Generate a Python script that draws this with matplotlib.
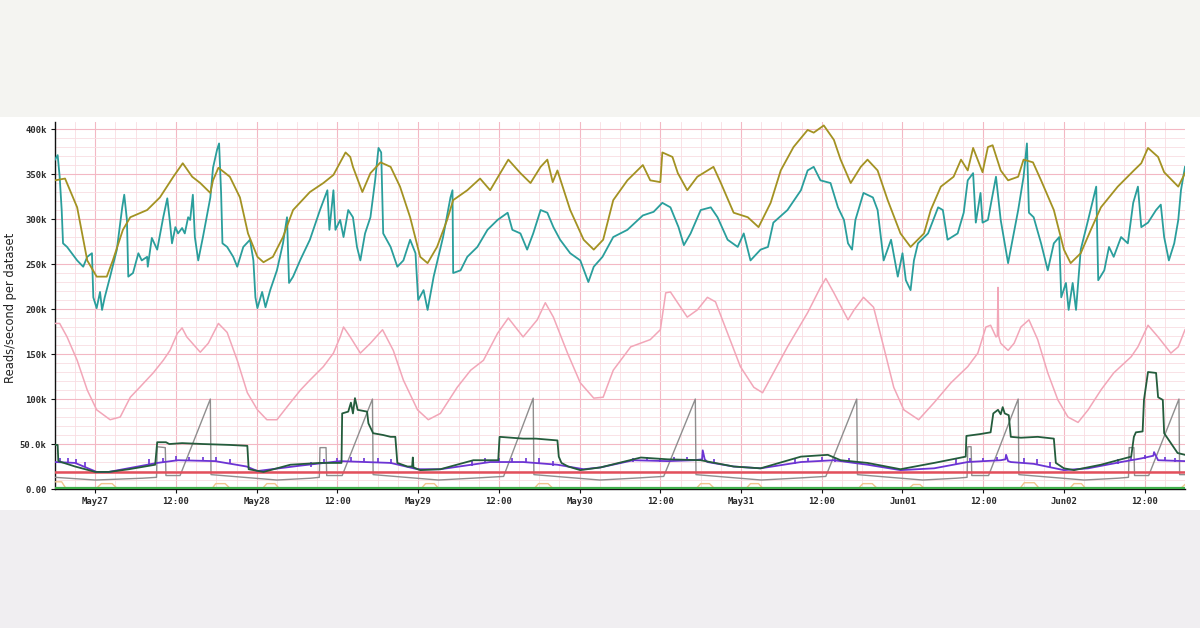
import numpy as np
import pandas as pd
import matplotlib
matplotlib.use('Agg')
import matplotlib.pyplot as plt
import matplotlib.dates as mdates
from matplotlib.patches import Rectangle
from matplotlib.ticker import MultipleLocator, FuncFormatter

START = pd.Timestamp('2023-05-26 18:00')
END = pd.Timestamp('2023-06-02 18:00')

# each series: (hours since START, reads/s in thousands)
olive = [(0, 343), (1.5, 345), (3.3, 313), (4.8, 254), (6.2, 236), (7.7, 236), (8.6, 254), (10.1, 288), (11.2, 302),
         (13.7, 310), (15.6, 324), (17.6, 347), (19.0, 362), (20.4, 347), (21.6, 340), (23.1, 329), (23.5, 343),
         (24.3, 357), (26.0, 347), (27.5, 324), (28.7, 284), (30.1, 258), (31.0, 252), (32.4, 258), (33.9, 280),
         (35.4, 310), (37.9, 330), (39.9, 340), (41.4, 349), (43.2, 374), (43.9, 369), (44.3, 358), (45.7, 330),
         (46.9, 351), (48.4, 363), (49.9, 358), (51.3, 336), (52.8, 302), (54.3, 258), (55.4, 251), (56.8, 269),
         (58.3, 299), (59.2, 321), (61.3, 332), (63.2, 345), (64.7, 332), (66.2, 351), (67.4, 366), (69.2, 351),
         (70.7, 340), (72.2, 358), (73.2, 366), (74.0, 341), (74.7, 354), (76.6, 310), (78.6, 277), (80.1, 266),
         (81.5, 277), (83.0, 321), (85.1, 343), (87.4, 360), (88.5, 343), (90.0, 341), (90.3, 374), (91.8, 369),
         (92.6, 351), (94.0, 332), (95.5, 347), (97.9, 358), (99.0, 340), (100.9, 307), (103.0, 302), (104.6, 291),
         (106.4, 318), (107.9, 354), (109.8, 380), (111.9, 399), (112.8, 396), (114.3, 404), (115.8, 388),
         (116.8, 366), (118.3, 340), (119.8, 358), (120.8, 366), (122.3, 354), (123.8, 321), (125.7, 284),
         (127.2, 269), (129.2, 284), (130.2, 310), (131.7, 336), (133.6, 347), (134.7, 366), (135.7, 354),
         (136.5, 379), (137.9, 352), (138.7, 380), (139.4, 382), (140.6, 354), (141.7, 343), (143.2, 347),
         (144.0, 366), (145.4, 363), (146.6, 343), (148.5, 310), (150.0, 266), (151.0, 251), (152.5, 262),
         (154.0, 288), (155.5, 313), (158.0, 336), (160.4, 354), (161.5, 362), (162.5, 379), (164.0, 369),
         (164.9, 352), (167.0, 336), (168.0, 351)]

teal = [(0, 366), (0.4, 371), (0.7, 347), (1.0, 310), (1.2, 273), (1.8, 269), (3.3, 254), (4.2, 247), (4.8, 258),
        (5.5, 262), (5.7, 213), (6.2, 201), (6.7, 219), (7.0, 199), (7.4, 213), (8.2, 236), (9.2, 266), (10.0, 313),
        (10.3, 327), (10.7, 299), (10.9, 236), (11.6, 240), (12.4, 262), (12.9, 254), (13.7, 258), (13.8, 247),
        (14.4, 279), (15.2, 266), (16.1, 302), (16.7, 323), (17.1, 296), (17.4, 273), (17.9, 291), (18.3, 284),
        (18.9, 290), (19.3, 284), (19.8, 302), (20.1, 299), (20.5, 327), (20.8, 280), (21.3, 254), (22.0, 280),
        (23.1, 324), (23.5, 357), (24.1, 377), (24.4, 384), (24.7, 329), (24.9, 273), (25.6, 269), (26.5, 258),
        (27.1, 247), (28.0, 269), (29.0, 277), (29.5, 254), (29.8, 213), (30.1, 201), (30.8, 219), (31.3, 202),
        (32.0, 221), (33.0, 243), (33.9, 273), (34.5, 302), (34.8, 229), (35.4, 236), (36.5, 255), (37.9, 277),
        (39.4, 310), (40.5, 332), (40.8, 288), (41.4, 332), (41.7, 288), (42.4, 299), (42.9, 280), (43.6, 310),
        (44.3, 302), (44.9, 269), (45.4, 254), (46.1, 284), (46.9, 302), (47.6, 343), (48.1, 379), (48.5, 374),
        (48.8, 284), (49.9, 269), (50.9, 247), (51.8, 254), (52.8, 277), (53.6, 262), (54.0, 210), (54.8, 221),
        (55.4, 199), (56.3, 236), (57.7, 280), (58.8, 324), (59.1, 332), (59.2, 240), (60.3, 243), (61.3, 258),
        (62.8, 269), (64.3, 288), (65.8, 299), (67.3, 307), (68.0, 288), (69.2, 284), (70.2, 266), (71.1, 284),
        (72.2, 310), (73.2, 307), (74.1, 291), (75.1, 277), (76.6, 262), (78.1, 254), (79.3, 230), (80.1, 247),
        (81.4, 258), (83.0, 280), (85.1, 288), (87.4, 304), (89.0, 308), (90.3, 318), (91.5, 313), (92.7, 291),
        (93.5, 271), (94.5, 284), (96.0, 310), (97.5, 313), (98.5, 302), (100.0, 277), (101.5, 269), (102.4, 284),
        (103.4, 254), (104.9, 266), (106.0, 269), (106.8, 296), (108.9, 310), (110.9, 332), (111.9, 354),
        (112.8, 358), (113.8, 343), (115.3, 340), (116.4, 313), (117.3, 299), (117.9, 273), (118.5, 266),
        (119.0, 299), (120.2, 329), (121.6, 324), (122.3, 310), (123.2, 254), (124.3, 277), (125.3, 236),
        (126.0, 262), (126.5, 232), (127.2, 221), (127.7, 254), (128.3, 273), (129.8, 284), (131.3, 313),
        (132.0, 310), (132.7, 277), (134.2, 284), (135.1, 307), (135.7, 343), (136.5, 351), (136.9, 296),
        (137.6, 329), (137.9, 296), (138.7, 299), (139.9, 347), (140.6, 299), (141.7, 251), (143.2, 310),
        (144.0, 347), (144.5, 384), (144.8, 307), (145.5, 302), (146.6, 273), (147.6, 243), (148.5, 273),
        (149.3, 280), (149.6, 213), (150.3, 229), (150.7, 199), (151.3, 229), (151.8, 199), (152.5, 266),
        (153.6, 299), (154.8, 336), (155.1, 232), (156.0, 243), (156.7, 269), (157.4, 258), (158.5, 280),
        (159.5, 273), (160.3, 318), (161.0, 336), (161.5, 291), (162.5, 296), (163.7, 310), (164.4, 316),
        (164.9, 280), (165.6, 254), (166.4, 273), (167.0, 299), (167.4, 332), (168.0, 358)]

pink = [(0, 184), (0.7, 184), (1.8, 169), (3.3, 143), (4.8, 110), (6.2, 88), (8.2, 77), (9.7, 80), (11.2, 102),
        (12.6, 113), (14.6, 129), (16.1, 143), (17.1, 154), (18.2, 173), (18.9, 179), (19.6, 169), (21.6, 152),
        (22.8, 162), (24.3, 184), (25.6, 174), (27.1, 143), (28.6, 107), (30.1, 88), (31.5, 77), (33.0, 77),
        (35.0, 96), (36.5, 110), (37.9, 121), (39.9, 136), (41.4, 151), (42.4, 169), (42.9, 180), (43.9, 169),
        (45.4, 151), (46.9, 162), (48.7, 177), (50.3, 154), (51.8, 121), (53.9, 88), (55.5, 77), (57.3, 84),
        (59.8, 113), (61.8, 132), (63.7, 143), (65.8, 173), (67.4, 190), (69.6, 169), (71.7, 188), (72.9, 207),
        (74.1, 191), (76.2, 151), (78.1, 118), (80.1, 101), (81.5, 102), (83.0, 132), (85.6, 158), (88.5, 166),
        (90.0, 177), (90.8, 218), (91.5, 219), (94.0, 191), (95.5, 199), (97.0, 213), (98.2, 208), (100.0, 173),
        (101.9, 136), (103.9, 113), (105.2, 107), (106.8, 129), (108.9, 158), (111.9, 196), (113.8, 224),
        (114.6, 234), (115.8, 218), (117.9, 188), (118.8, 199), (120.2, 213), (121.7, 202), (123.2, 158),
        (124.7, 113), (126.2, 88), (128.4, 77), (130.7, 96), (133.2, 118), (135.7, 136), (137.2, 151),
        (138.4, 180), (139.1, 182), (139.9, 169), (140.1, 170), (140.2, 224), (140.3, 170), (140.6, 162),
        (141.7, 154), (142.6, 162), (143.6, 180), (144.8, 188), (146.1, 166), (147.6, 129), (149.1, 99),
        (150.6, 80), (152.1, 74), (153.6, 88), (155.5, 110), (157.4, 129), (160.0, 147), (161.0, 158),
        (162.5, 182), (164.0, 169), (165.9, 151), (167.0, 158), (168.0, 177)]

dark_green = [(0, 49), (0.4, 49), (0.5, 31), (3, 25), (6, 19), (8, 19), (11, 22), (14.9, 27), (15.2, 52), (16.5, 52),
              (17.0, 50), (18.9, 51), (22, 50), (26, 49), (28.6, 48), (28.8, 22), (31, 19), (35.0, 27), (39.4, 29),
              (42.6, 29), (42.7, 84), (43.6, 86), (44.0, 96), (44.3, 84), (44.6, 101), (45.0, 88), (46.4, 86),
              (46.6, 73), (47.3, 62), (48.8, 60), (49.9, 58), (50.6, 58), (50.9, 29), (52.4, 25), (53.1, 25),
              (53.2, 35), (53.3, 24), (54.3, 21), (57.3, 22), (62.2, 32), (65.9, 32), (66.1, 58), (69.6, 56),
              (71.5, 56), (74.7, 54), (74.9, 36), (75.3, 29), (76.3, 25), (78.1, 21), (81.1, 24), (87.1, 35),
              (91.1, 33), (96.0, 32), (100.9, 25), (104.9, 23), (110.9, 36), (114.9, 38), (116.8, 32), (120.8, 29),
              (125.7, 22), (130.7, 29), (135.4, 36), (135.5, 59), (137.5, 61), (139.1, 63), (139.5, 84),
              (140.2, 88), (140.6, 83), (140.9, 91), (141.2, 84), (141.8, 82), (142.1, 58), (143.6, 57),
              (146.1, 58), (148.5, 56), (148.8, 29), (150.0, 23), (151.5, 21), (155.5, 27), (160.0, 36),
              (160.4, 58), (160.7, 63), (161.7, 64), (161.9, 99), (162.5, 130), (163.7, 129), (164.0, 102),
              (164.7, 99), (164.9, 62), (165.9, 51), (166.9, 40), (168.0, 38)]

gray = [(0, 13), (6, 10), (13, 12), (15.1, 13), (15.2, 47), (16.4, 46), (16.5, 15), (18.6, 15), (23.1, 100),
        (23.2, 16), (33, 10), (38, 12), (39.3, 13), (39.4, 46), (40.3, 46), (40.4, 15), (42.7, 15), (47.2, 100),
        (47.3, 16), (57, 10), (62, 12), (66.7, 14), (71.1, 101), (71.2, 16), (81, 10), (86, 12), (90.5, 14),
        (95.2, 100), (95.3, 16), (105, 10), (110, 12), (114.6, 14), (119.2, 100), (119.3, 16), (129, 10),
        (134, 12), (135.6, 13), (135.7, 47), (136.2, 47), (136.3, 15), (138.8, 15), (143.2, 100), (143.3, 16),
        (153, 10), (158, 12), (159.6, 13), (159.7, 46), (160.4, 46), (160.5, 15), (162.6, 15), (167.1, 100),
        (167.2, 16), (168, 16)]

purple = [(0, 30), (3, 29), (6.2, 19), (8, 19), (15.2, 29), (18.3, 32), (23.8, 31), (28.5, 25), (30.1, 20),
          (36.5, 26), (42.4, 31), (49.9, 29), (53.9, 22), (57.3, 22), (64.7, 30), (69.6, 30), (74.7, 27),
          (78.6, 22), (81.1, 24), (86.0, 32), (91.1, 31), (95.0, 32), (96.2, 33), (96.3, 43), (96.6, 33),
          (97.0, 30), (100.9, 25), (104.9, 23), (110.9, 30), (115.8, 32), (120.8, 27), (125.7, 21), (130.7, 23),
          (135.7, 30), (140.6, 32), (141.3, 33), (141.4, 38), (141.7, 31), (142.1, 30), (145.5, 28), (150.0, 21),
          (153.6, 23), (158.5, 30), (161.5, 34), (163.3, 37), (163.4, 41), (164.0, 32), (168, 31)]

# little spikes on the purple line: (hours, top value)
purple_spikes = [(0.8, 35), (2.0, 34), (3.2, 33), (4.4, 30), (14, 33), (16, 34), (18, 37), (20, 36), (22, 36),
                 (24, 36), (26, 33), (38, 30), (40, 33), (42, 35), (44, 36), (46, 35), (48, 34), (50, 33),
                 (62, 31), (64, 34), (66, 35), (68, 35), (70, 35), (72, 34), (74, 31), (86, 35), (88, 36),
                 (90, 35), (92, 36), (94, 36), (98, 33), (110, 33), (112, 35), (114, 36), (116, 35), (118, 34),
                 (134, 33), (136, 35), (138, 35), (140, 36), (144, 34), (146, 33), (148, 30), (158, 33),
                 (160, 36), (162, 38), (165, 36), (166.5, 35)]

orange = [(0, 8), (1.0, 8), (1.6, 1), (6.2, 1), (6.9, 6), (8.5, 6), (9.2, 1), (23.4, 1), (23.9, 6), (25.3, 6),
          (26.0, 1), (30.9, 1), (31.5, 6), (32.7, 6), (33.3, 1), (54.5, 1), (55.1, 6), (56.4, 6), (57.0, 1),
          (71.3, 1), (71.9, 6), (73.3, 6), (74.0, 1), (95.4, 1), (96.0, 6), (97.3, 6), (98.0, 1), (102.8, 1),
          (103.4, 6), (104.6, 6), (105.2, 1), (119.5, 1), (120.1, 6), (121.5, 6), (122.2, 1), (127.0, 1),
          (127.6, 5), (128.6, 5), (129.2, 1), (143.5, 1), (144.1, 7), (145.6, 7), (146.3, 1), (150.9, 1),
          (151.5, 6), (152.6, 6), (153.2, 1), (167.4, 1), (168.0, 5)]

red = [(0, 18.5), (168, 18.5)]
green = [(0, 1.5), (168, 1.5)]


def series(pairs):
    arr = np.array(pairs, dtype=float)
    t = START + pd.to_timedelta(arr[:, 0], unit='h')
    return t, arr[:, 1] * 1000


fig = plt.figure(figsize=(12, 6.28), dpi=100, facecolor='#f4f4f1')
fig.patches.append(Rectangle((0, 0), 1, 0.188, transform=fig.transFigure,
                             facecolor='#f0eef1', edgecolor='none', zorder=-2))
fig.patches.append(Rectangle((0, 0.188), 1, 0.626, transform=fig.transFigure,
                             facecolor='white', edgecolor='none', zorder=-2))

ax = fig.add_axes([0.0458, 0.2213, 0.9417, 0.5844])
ax.set_zorder(2)
ax.set_facecolor('white')

t, v = series(gray)
ax.plot(t, v, color='#8e8e8e', lw=1.0, zorder=3)
t, v = series(orange)
ax.plot(t, v, color='#f2c48e', lw=1.0, zorder=3)
t, v = series(green)
ax.plot(t, v, color='#3fae4a', lw=1.6, zorder=3)
t, v = series(red)
ax.plot(t, v, color='#e2505c', lw=1.8, zorder=3)
t, v = series(purple)
ax.plot(t, v, color='#6c34d4', lw=1.3, zorder=4)
t, v = series(purple_spikes)
ax.vlines(t, v - 5000, v, color='#6c34d4', lw=1.2, zorder=4)
t, v = series(dark_green)
ax.plot(t, v, color='#245c3c', lw=1.3, zorder=5)
t, v = series(pink)
ax.plot(t, v, color='#f2a6b8', lw=1.1, zorder=4)
t, v = series(teal)
ax.plot(t, v, color='#2a9e9c', lw=1.3, zorder=5)
t, v = series(olive)
ax.plot(t, v, color='#a39222', lw=1.3, zorder=6)

ax.set_xlim(START, END)
ax.set_ylim(0, 407800)

ax.xaxis.set_major_locator(mdates.HourLocator(byhour=[0, 12]))
ax.xaxis.set_minor_locator(mdates.HourLocator(byhour=range(0, 24, 3)))


def fmt_x(x, pos):
    d = mdates.num2date(x)
    return d.strftime('%b%d') if d.hour == 0 else '12:00'


def fmt_y(y, pos):
    if y == 0:
        return '0.00'
    if y < 100000:
        return '%.1fk' % (y / 1000)
    return '%dk' % round(y / 1000)


ax.xaxis.set_major_formatter(FuncFormatter(fmt_x))
ax.yaxis.set_major_locator(MultipleLocator(50000))
ax.yaxis.set_minor_locator(MultipleLocator(10000))
ax.yaxis.set_major_formatter(FuncFormatter(fmt_y))

ax.grid(which='major', color='#f3b8c4', lw=0.8, zorder=0)
ax.grid(which='minor', color='#f9dde2', lw=0.6, zorder=0)
ax.set_axisbelow(True)

for s in ['top', 'right']:
    ax.spines[s].set_visible(False)
for s in ['left', 'bottom']:
    ax.spines[s].set_color('#111111')
    ax.spines[s].set_linewidth(1.0)

ax.tick_params(which='major', length=3, width=0.8, color='#111111', labelsize=6.4, pad=3)
ax.tick_params(which='minor', length=0)
for lbl in ax.get_xticklabels() + ax.get_yticklabels():
    lbl.set_family('DejaVu Sans Mono')
    lbl.set_weight('bold')
    lbl.set_color('#2a2a2a')

fig.text(0.009, 0.51, 'Reads/second per dataset', rotation=90, va='center', ha='center',
         fontsize=8.3, color='#222222', family='DejaVu Sans')

fig.savefig('out.png', dpi=100, facecolor=fig.get_facecolor())
